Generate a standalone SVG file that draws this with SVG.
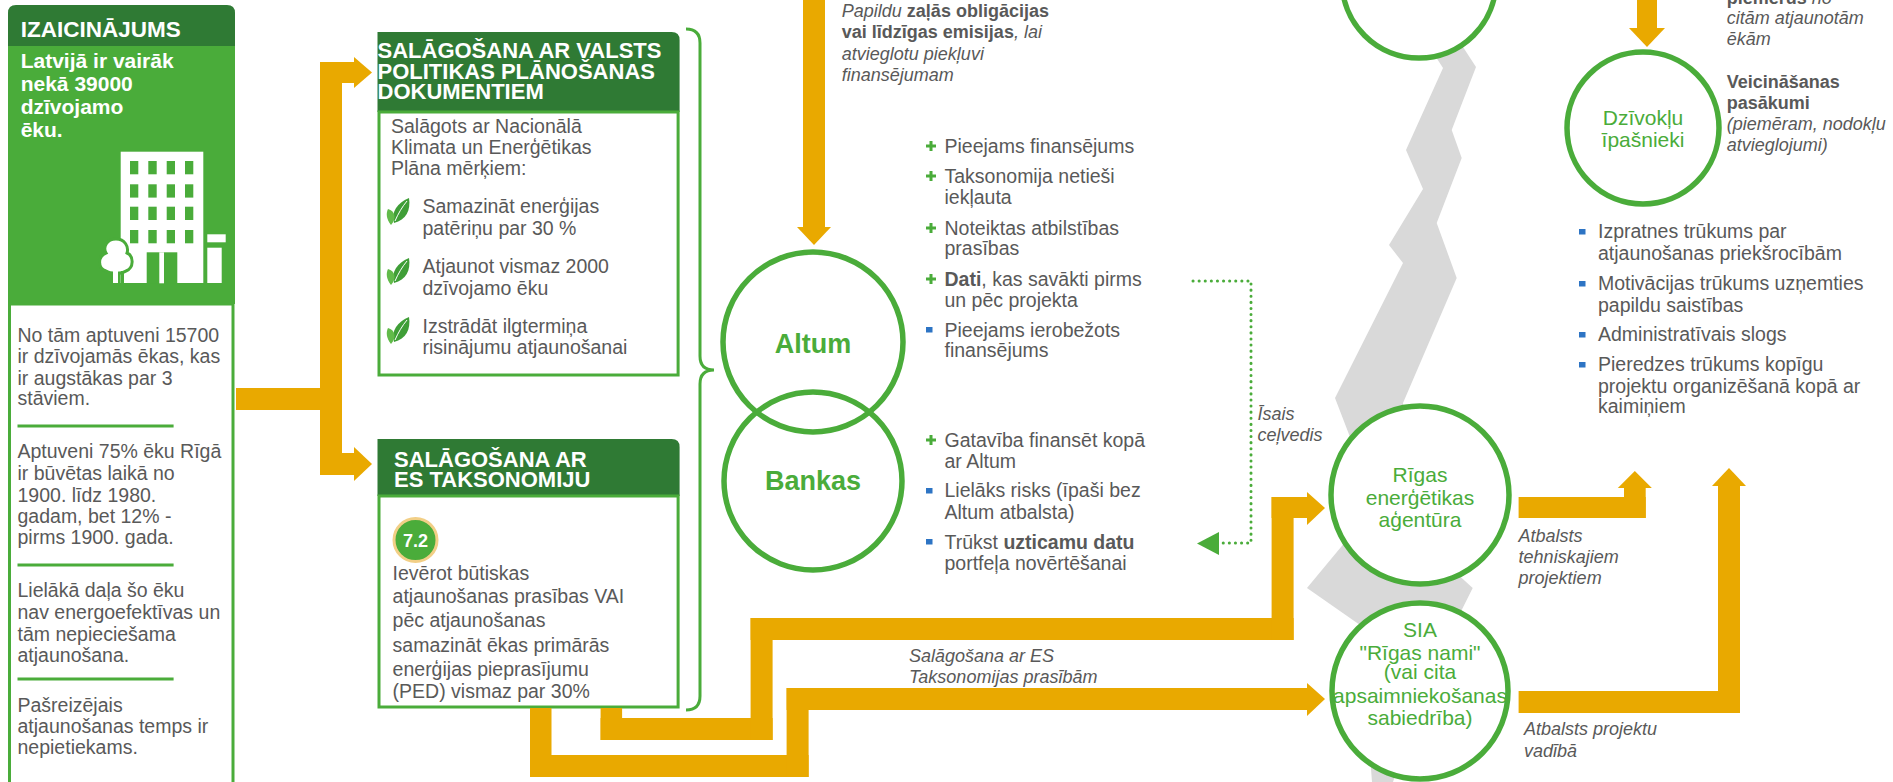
<svg xmlns="http://www.w3.org/2000/svg" width="1893" height="782" viewBox="0 0 1893 782">
<style>
.t{font-family:"Liberation Sans",Arial,sans-serif;font-size:19.5px;fill:#595959}
.i{font-family:"Liberation Sans",Arial,sans-serif;font-size:18px;font-style:italic;fill:#595959}
.a{font-family:"Liberation Sans",Arial,sans-serif;font-size:18px;fill:#595959}
.b{font-weight:bold;font-style:normal}
.it{font-style:italic;font-weight:normal}
.hd{font-family:"Liberation Sans",Arial,sans-serif;font-weight:bold;fill:#ffffff}
.nd{fill:none;stroke:#4aac3a;stroke-width:5.5}
.ndw{fill:#ffffff;stroke:#4aac3a;stroke-width:5.5}
.ct{font-family:"Liberation Sans",Arial,sans-serif;fill:#4aac3a;text-anchor:middle}
.or{fill:#e9a900}
.bl{fill:#2d74c4}
.sep{stroke:#4aac3a;stroke-width:3}
.dk{fill:#2f7a34}
.gr{fill:#4aac3a}
.box{fill:#ffffff;stroke:#4aac3a;stroke-width:3}
</style>
<defs>
<path id="plus" d="M-5,0H5M0,-5V5" stroke="#4aac3a" stroke-width="3" fill="none"/>
<g id="leaf">
<path d="M8,25 C5,14 11,5 23,0 C25,12 20,22 8,25 Z" fill="#3f9e37"/>
<path d="M9,23 C12,16 16,9 21,3" stroke="#ffffff" stroke-width="1" fill="none"/>
<path d="M5,27 C0,21 0,15 2,11 C9,13 11,20 5,27 Z" fill="#62bb4a"/>
</g>
</defs>
<rect x="0" y="0" width="1893" height="782" fill="#ffffff"/>

<g id="zigzag">
<polygon fill="#d9d9d9" points="1425,40 1443,68 1406,150 1423,189 1389,245 1403,263 1335,398 1350,437 1380,500 1307,588 1360,625 1372,782 1393,782 1420,700 1461.7,610 1472.7,588 1420,540 1403,403 1456.7,278 1436.7,223 1461.7,158 1451.7,130 1476,67 1463,47 1450,30"/>
</g>

<g id="izaicinajums">
<path class="dk" d="M8,13 Q8,5 16,5 L227,5 Q235,5 235,13 L235,46 L8,46 Z"/>
<rect class="gr" x="8" y="46" width="227" height="258"/>
<rect class="box" x="9.5" y="304" width="223.5" height="490"/>
<text class="hd" x="20.7" y="36.5" font-size="22.5">IZAICINĀJUMS</text>
<text class="hd" font-size="21"><tspan x="20.7" y="68">Latvijā ir vairāk</tspan><tspan x="20.7" y="91">nekā 39000</tspan><tspan x="20.7" y="114">dzīvojamo</tspan><tspan x="20.7" y="137">ēku.</tspan></text>
<g id="building-icon">
<rect x="120.7" y="151.7" width="82.6" height="131.3" fill="#ffffff"/>
<g class="gr">
<rect x="130" y="161" width="8.3" height="13.3"/><rect x="148.3" y="161" width="8.4" height="13.3"/><rect x="166.7" y="161" width="8.3" height="13.3"/><rect x="185" y="161" width="8.3" height="13.3"/>
<rect x="130" y="184.3" width="8.3" height="13.3"/><rect x="148.3" y="184.3" width="8.4" height="13.3"/><rect x="166.7" y="184.3" width="8.3" height="13.3"/><rect x="185" y="184.3" width="8.3" height="13.3"/>
<rect x="130" y="206.7" width="8.3" height="13.3"/><rect x="148.3" y="206.7" width="8.4" height="13.3"/><rect x="166.7" y="206.7" width="8.3" height="13.3"/><rect x="185" y="206.7" width="8.3" height="13.3"/>
<rect x="130" y="230" width="8.3" height="13.3"/><rect x="148.3" y="230" width="8.4" height="13.3"/><rect x="166.7" y="230" width="8.3" height="13.3"/><rect x="185" y="230" width="8.3" height="13.3"/>
<rect x="146.7" y="252.3" width="30.6" height="31"/>
</g>
<rect x="159.3" y="252.3" width="4.7" height="31" fill="#ffffff"/>
<path d="M116,239 C106,239 103,248 106,253 C98,256 97,268 106,271 C110,274 122,274 126,271 C134,268 134,256 127,253 C129,247 125,239 116,239 Z" fill="#ffffff" stroke="#4aac3a" stroke-width="3"/>
<rect x="113" y="265" width="5" height="18" fill="#ffffff"/>
<rect x="107" y="271" width="3" height="12" fill="#4aac3a"/>
<rect x="121" y="271" width="3" height="12" fill="#4aac3a"/>
<rect x="207.3" y="234.3" width="18.4" height="8" fill="#ffffff"/>
<rect x="207.3" y="247.7" width="14.4" height="35.3" fill="#ffffff"/>
</g>
<text class="t"><tspan x="17.5" y="342">No tām aptuveni 15700</tspan><tspan x="17.5" y="363">ir dzīvojamās ēkas, kas</tspan><tspan x="17.5" y="385">ir augstākas par 3</tspan><tspan x="17.5" y="405">stāviem.</tspan></text>
<line class="sep" x1="17.5" y1="426" x2="173.6" y2="426"/>
<text class="t"><tspan x="17.5" y="458">Aptuveni 75% ēku Rīgā</tspan><tspan x="17.5" y="480">ir būvētas laikā no</tspan><tspan x="17.5" y="502">1900. līdz 1980.</tspan><tspan x="17.5" y="523">gadam, bet 12% -</tspan><tspan x="17.5" y="544">pirms 1900. gada.</tspan></text>
<line class="sep" x1="17.5" y1="565" x2="173.6" y2="565"/>
<text class="t"><tspan x="17.5" y="597">Lielākā daļa šo ēku</tspan><tspan x="17.5" y="619">nav energoefektīvas un</tspan><tspan x="17.5" y="641">tām nepieciešama</tspan><tspan x="17.5" y="662">atjaunošana.</tspan></text>
<line class="sep" x1="17.5" y1="679" x2="173.6" y2="679"/>
<text class="t"><tspan x="17.5" y="712">Pašreizējais</tspan><tspan x="17.5" y="733">atjaunošanas temps ir</tspan><tspan x="17.5" y="754">nepietiekams.</tspan></text>
</g>

<g id="box-valsts">
<path class="dk" d="M377.5,32 L671.6,32 Q679.6,32 679.6,40 L679.6,112 L377.5,112 Z"/>
<rect class="box" x="379" y="112" width="299.1" height="263"/>
<text class="hd" font-size="22"><tspan x="377.5" y="58">SALĀGOŠANA AR VALSTS</tspan><tspan x="377.5" y="79">POLITIKAS PLĀNOŠANAS</tspan><tspan x="377.5" y="99">DOKUMENTIEM</tspan></text>
<text class="t"><tspan x="391" y="133">Salāgots ar Nacionālā</tspan><tspan x="391" y="154">Klimata un Enerģētikas</tspan><tspan x="391" y="175">Plāna mērķiem:</tspan></text>
<use href="#leaf" x="386" y="198"/>
<use href="#leaf" x="386" y="258"/>
<use href="#leaf" x="386" y="317"/>
<text class="t"><tspan x="422.5" y="213">Samazināt enerģijas</tspan><tspan x="422.5" y="235">patēriņu par 30 %</tspan><tspan x="422.5" y="273">Atjaunot vismaz 2000</tspan><tspan x="422.5" y="295">dzīvojamo ēku</tspan><tspan x="422.5" y="333">Izstrādāt ilgtermiņa</tspan><tspan x="422.5" y="354">risinājumu atjaunošanai</tspan></text>
</g>

<g id="box-es">
<path class="dk" d="M377.5,439 L671.6,439 Q679.6,439 679.6,447 L679.6,496 L377.5,496 Z"/>
<rect class="box" x="379" y="496" width="299.1" height="211"/>
<text class="hd" font-size="22"><tspan x="394" y="467">SALĀGOŠANA AR</tspan><tspan x="394" y="487">ES TAKSONOMIJU</tspan></text>
<circle cx="415.5" cy="540" r="21.5" fill="#4aac3a" stroke="#f2cf86" stroke-width="3"/>
<text class="hd" x="415.5" y="546.5" font-size="18" text-anchor="middle">7.2</text>
<text class="t"><tspan x="392.6" y="580">Ievērot būtiskas</tspan><tspan x="392.6" y="603">atjaunošanas prasības VAI</tspan><tspan x="392.6" y="627">pēc atjaunošanas</tspan><tspan x="392.6" y="652">samazināt ēkas primārās</tspan><tspan x="392.6" y="676">enerģijas pieprasījumu</tspan><tspan x="392.6" y="698">(PED) vismaz par 30%</tspan></text>
</g>

<g id="brace">
<path d="M686,29 Q700,29 700,43 L700,356 Q700,370 714,370 Q700,370 700,384 L700,696 Q700,710 686,710" fill="none" stroke="#4aac3a" stroke-width="3"/>
</g>

<g id="connectors">
<g class="or">
<rect x="236" y="388" width="106" height="22"/>
<rect x="320" y="62" width="22" height="413"/>
<rect x="320" y="62" width="34.5" height="21"/>
<polygon points="354,57 372,72.5 354,88"/>
<rect x="320" y="453" width="34.5" height="22"/>
<polygon points="354,447 372,464 354,481"/>
<rect x="803" y="0" width="22" height="228"/>
<polygon points="797,227 831,227 814,245"/>
<rect x="600.6" y="708" width="21.5" height="32"/>
<rect x="600.6" y="718" width="172" height="22"/>
<rect x="750.6" y="618" width="22" height="122"/>
<rect x="750.6" y="618" width="543" height="22"/>
<rect x="1271.6" y="497" width="22" height="143"/>
<rect x="1271.6" y="497" width="36" height="21"/>
<polygon points="1307,492 1325,508 1307,525"/>
<rect x="530" y="708" width="21.5" height="69"/>
<rect x="530" y="755" width="278.6" height="22"/>
<rect x="786.6" y="688" width="22" height="89"/>
<rect x="786.6" y="688" width="521" height="22"/>
<polygon points="1307,683 1325,699 1307,716"/>
<rect x="1518.6" y="497" width="127.1" height="21"/>
<rect x="1624" y="487" width="21.7" height="31"/>
<polygon points="1617.8,488 1651.8,488 1634.8,471"/>
<rect x="1518.6" y="691" width="221.4" height="22"/>
<rect x="1718" y="485" width="22" height="228"/>
<polygon points="1712,486 1746,486 1729,468"/>
<rect x="1637" y="0" width="20" height="29"/>
<polygon points="1629,28 1665,28 1647,47"/>
</g>
<path d="M1193,281 L1251,281 L1251,543 L1218,543" fill="none" stroke="#4aac3a" stroke-width="3" stroke-linecap="round" stroke-dasharray="0.1 6"/>
<polygon points="1219,532 1197,543.5 1219,555" fill="#4aac3a"/>
</g>

<g id="node-altum">
<circle class="nd" cx="813" cy="342" r="90"/>
<text class="ct" x="813" y="353" font-size="27" font-weight="bold">Altum</text>
</g>
<g id="node-bankas">
<circle class="nd" cx="813" cy="481" r="89"/>
<text class="ct" x="813" y="490" font-size="27" font-weight="bold">Bankas</text>
</g>
<g id="node-top">
<circle class="ndw" cx="1419" cy="-19" r="77"/>
</g>
<g id="node-dzivoklu">
<circle class="ndw" cx="1643" cy="128" r="76"/>
<text class="ct" font-size="21"><tspan x="1643" y="125">Dzīvokļu</tspan><tspan x="1643" y="147">īpašnieki</tspan></text>
</g>
<g id="node-rea">
<circle class="ndw" cx="1420" cy="495" r="89"/>
<text class="ct" font-size="21"><tspan x="1420" y="482">Rīgas</tspan><tspan x="1420" y="505">enerģētikas</tspan><tspan x="1420" y="527">aģentūra</tspan></text>
</g>
<g id="node-sia">
<circle class="ndw" cx="1420" cy="691" r="88"/>
<text class="ct" font-size="21"><tspan x="1420" y="637">SIA</tspan><tspan x="1420" y="660">"Rīgas nami"</tspan><tspan x="1420" y="679">(vai cita</tspan><tspan x="1420" y="703">apsaimniekošanas</tspan><tspan x="1420" y="725">sabiedrība)</tspan></text>
</g>

<g id="labels">
<text class="i"><tspan x="841.8" y="17">Papildu <tspan class="b">zaļās obligācijas</tspan></tspan><tspan x="841.8" y="38" class="b">vai līdzīgas emisijas<tspan class="it">, lai</tspan></tspan><tspan x="841.8" y="60">atvieglotu piekļuvi</tspan><tspan x="841.8" y="81">finansējumam</tspan></text>
<text class="i"><tspan x="909" y="662">Salāgošana ar ES</tspan><tspan x="909" y="683">Taksonomijas prasībām</tspan></text>
<text class="i"><tspan x="1257.5" y="420">Īsais</tspan><tspan x="1257.5" y="441">ceļvedis</tspan></text>
<text class="i"><tspan x="1518.6" y="542">Atbalsts</tspan><tspan x="1518.6" y="563">tehniskajiem</tspan><tspan x="1518.6" y="584">projektiem</tspan></text>
<text class="i"><tspan x="1524" y="735">Atbalsts projektu</tspan><tspan x="1524" y="757">vadībā</tspan></text>
<text class="i"><tspan x="1726.7" y="4"><tspan class="b">piemērus</tspan> no</tspan><tspan x="1726.7" y="24">citām atjaunotām</tspan><tspan x="1726.7" y="45">ēkām</tspan></text>
<text class="i"><tspan x="1726.7" y="88" class="b">Veicināšanas</tspan><tspan x="1726.7" y="109" class="b">pasākumi</tspan><tspan x="1726.7" y="130">(piemēram, nodokļu</tspan><tspan x="1726.7" y="151">atvieglojumi)</tspan></text>
</g>

<g id="list-altum">
<use href="#plus" x="931" y="146"/>
<use href="#plus" x="931" y="176"/>
<use href="#plus" x="931" y="228"/>
<use href="#plus" x="931" y="279"/>
<rect class="bl" x="926" y="327" width="6.5" height="5.5"/>
<text class="t"><tspan x="944.5" y="153">Pieejams finansējums</tspan><tspan x="944.5" y="183">Taksonomija netieši</tspan><tspan x="944.5" y="204">iekļauta</tspan><tspan x="944.5" y="235">Noteiktas atbilstības</tspan><tspan x="944.5" y="255">prasības</tspan><tspan x="944.5" y="286"><tspan class="b">Dati</tspan>, kas savākti pirms</tspan><tspan x="944.5" y="307">un pēc projekta</tspan><tspan x="944.5" y="337">Pieejams ierobežots</tspan><tspan x="944.5" y="357">finansējums</tspan></text>
</g>
<g id="list-bankas">
<use href="#plus" x="931" y="440"/>
<rect class="bl" x="926" y="488" width="6.5" height="5.5"/>
<rect class="bl" x="926" y="539" width="6.5" height="5.5"/>
<text class="t"><tspan x="944.5" y="447">Gatavība finansēt kopā</tspan><tspan x="944.5" y="468">ar Altum</tspan><tspan x="944.5" y="497">Lielāks risks (īpaši bez</tspan><tspan x="944.5" y="519">Altum atbalsta)</tspan><tspan x="944.5" y="549">Trūkst <tspan class="b">uzticamu datu</tspan></tspan><tspan x="944.5" y="570">portfeļa novērtēšanai</tspan></text>
</g>
<g id="list-dzivoklu">
<rect class="bl" x="1579" y="229" width="6.5" height="5.5"/>
<rect class="bl" x="1579" y="281" width="6.5" height="5.5"/>
<rect class="bl" x="1579" y="332" width="6.5" height="5.5"/>
<rect class="bl" x="1579" y="362" width="6.5" height="5.5"/>
<text class="t"><tspan x="1598" y="238">Izpratnes trūkums par</tspan><tspan x="1598" y="260">atjaunošanas priekšrocībām</tspan><tspan x="1598" y="290">Motivācijas trūkums uzņemties</tspan><tspan x="1598" y="312">papildu saistības</tspan><tspan x="1598" y="341">Administratīvais slogs</tspan><tspan x="1598" y="371">Pieredzes trūkums kopīgu</tspan><tspan x="1598" y="393">projektu organizēšanā kopā ar</tspan><tspan x="1598" y="413">kaimiņiem</tspan></text>
</g>
</svg>
